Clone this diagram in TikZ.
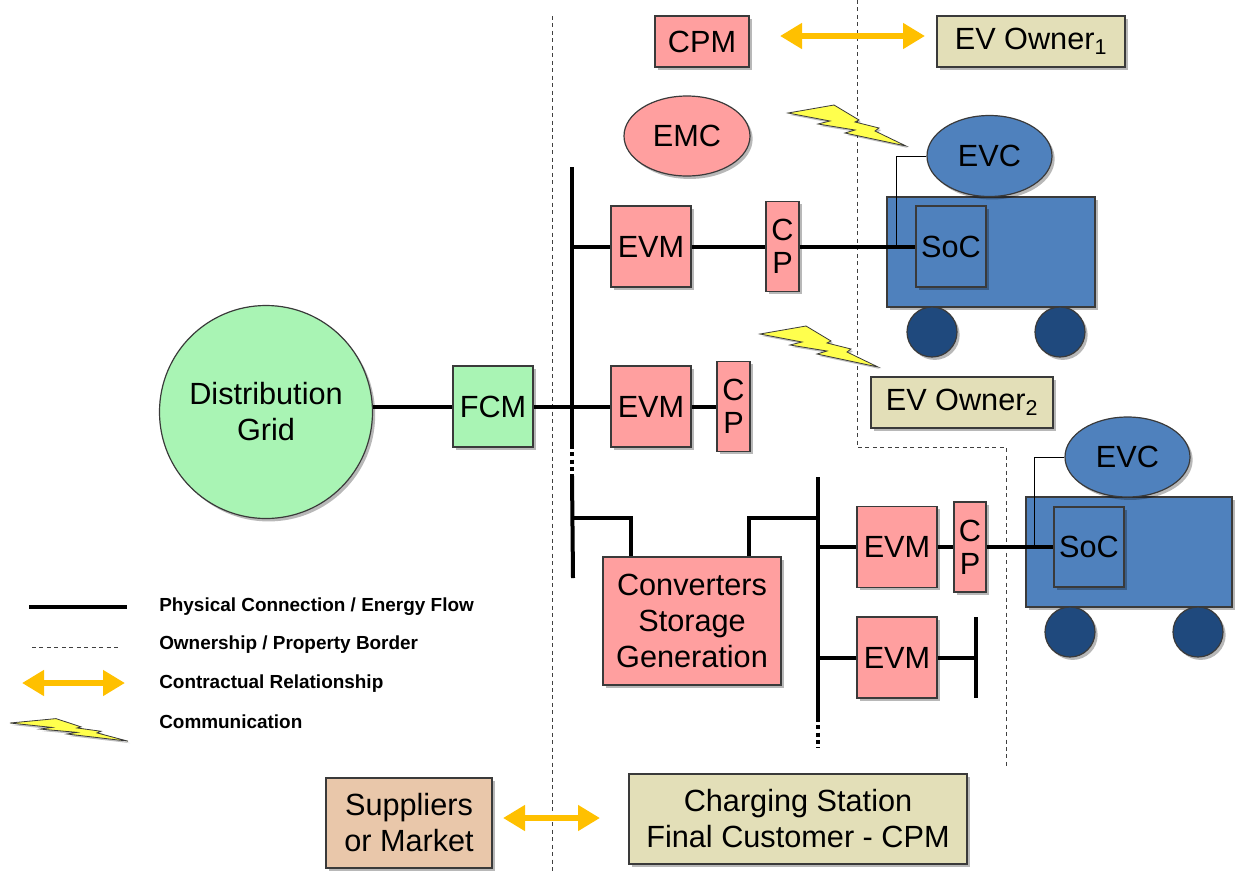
\documentclass[tikz,border=0pt]{standalone}
\usepackage{fontspec}
\setmainfont{Liberation Sans}
\usetikzlibrary{shadows,shapes.geometric,arrows.meta}
\definecolor{pinkc}{HTML}{FF9F9F}
\definecolor{greenc}{HTML}{A9F4B4}
\definecolor{olivec}{HTML}{E3DFB8}
\definecolor{bluec}{HTML}{4F81BD}
\definecolor{darkc}{HTML}{1F497D}
\definecolor{peachc}{HTML}{E9C7AA}
\definecolor{yellowc}{HTML}{FFFF4D}
\definecolor{orangec}{HTML}{FFC000}
\definecolor{edgec}{HTML}{3A3A3A}
\tikzset{
  sz/.style 2 args={minimum width=#1*0.75pt,minimum height=#2*0.75pt},
  base/.style={draw=edgec,line width=.9pt,inner sep=0pt,align=center,
    font=\fontsize{23}{27}\selectfont,
    general shadow={shadow xshift=2pt,shadow yshift=-2.2pt,fill=black,opacity=.28}},
  pinkbox/.style={base,rectangle,fill=pinkc},
  greenbox/.style={base,rectangle,fill=greenc},
  olivebox/.style={base,rectangle,fill=olivec},
  peachbox/.style={base,rectangle,fill=peachc},
  bluebox/.style={base,rectangle,fill=bluec},
  cpbox/.style={pinkbox,font=\fontsize{23}{25}\selectfont},
  oval/.style={base,ellipse,inner sep=0pt},
  wheel/.style={base,circle,fill=darkc,sz={50}{50}},
  power/.style={line width=3pt,black},
  busdots/.style={line width=3pt,black,dash pattern=on 3pt off 2.5pt},
  signal/.style={line width=.6pt,black},
  border/.style={line width=.6pt,black!75,dash pattern=on 3pt off 2.6pt},
  contract/.style={line width=5pt,orangec,{Triangle[width=18.5pt,length=16.5pt]}-{Triangle[width=18.5pt,length=16.5pt]}},
  legendtext/.style={anchor=base west,inner sep=0pt,font=\fontsize{14.2}{16}\bfseries\selectfont},
  boltshape/.style={fill=yellowc,draw=edgec,line width=.6pt,line join=miter,
    general shadow={shadow xshift=1.5pt,shadow yshift=-1.5pt,fill=black,opacity=.25}},
  bolt/.pic={\path[boltshape] (0,0)--(46,-8)--(71,7)--(67,9)--(91,15)--(87,18)--(118,33)--(57,20)--(67,17)--(30,11)--(42,8)--cycle;}
}
\begin{document}
\begin{tikzpicture}[x=0.75pt,y=-0.75pt]
\useasboundingbox (0,0) rectangle (1238,872);
% borders
\coordinate (bl1) at (552,16);
\coordinate (bl2) at (552,872);
\coordinate (br1) at (857,0);
\coordinate (br2) at (857,447);
\coordinate (br3) at (1006,447);
\coordinate (br4) at (1006,768);
\draw[border] (bl1)--(bl2);
\draw[border] (br1)--(br2)--(br3)--(br4);
% top row
\node[pinkbox,sz={94}{51}] (cpm) at (702,41.5) {CPM};
\node[olivebox,sz={188}{51}] (owner1) at (1031,41.5) {EV Owner\textsubscript{1}};
\coordinate (ca1) at (780,36);
\coordinate (ca2) at (925,36);
\draw[contract] (ca1)--(ca2);
\node[oval,fill=pinkc,sz={126}{80}] (emc) at (687,136) {EMC};
\pic at (788,113) {bolt};
\pic at (760,334) {bolt};
% grid
\node[base,circle,fill=greenc,sz={213}{213}] (grid) at (266,412) {Distribution\\Grid};
\node[greenbox,sz={80}{81}] (fcm) at (493,406.5) {FCM};
% EV 1
\node[bluebox,sz={208}{110}] (truck1) at (991,252) {};
\node[oval,fill=bluec,sz={125}{81}] (evc1) at (989.5,156) {EVC};
\node[bluebox,sz={70}{81}] (soc1) at (951,246.5) {SoC};
\node[wheel] (w1a) at (932,332) {};
\node[wheel] (w1b) at (1060,332) {};
\node[pinkbox,sz={80}{81}] (evma) at (651,246.5) {EVM};
\node[cpbox,sz={33}{90}] (cpa) at (782.5,246.5) {C\\P};
% middle row
\node[pinkbox,sz={80}{81}] (evmb) at (651,406.5) {EVM};
\node[cpbox,sz={33}{90}] (cpb) at (733.5,406.5) {C\\P};
\node[olivebox,sz={182}{51}] (owner2) at (962,402.5) {EV Owner\textsubscript{2}};
% lower group
\node[pinkbox,sz={178}{128}] (conv) at (692,621) {Converters\\Storage\\Generation};
\node[pinkbox,sz={80}{81}] (evmc) at (897,547) {EVM};
\node[cpbox,sz={32}{90}] (cpc) at (970,547) {C\\P};
\node[pinkbox,sz={80}{81}] (evmd) at (897,657.5) {EVM};
% EV 2
\node[bluebox,sz={206}{110}] (truck2) at (1129,552) {};
\node[oval,fill=bluec,sz={125}{80}] (evc2) at (1127.5,457) {EVC};
\node[bluebox,sz={70}{80}] (soc2) at (1089,547) {SoC};
\node[wheel] (w2a) at (1070,632) {};
\node[wheel] (w2b) at (1198,632) {};
% buses
\coordinate (a1) at (572,167);
\coordinate (a2) at (572,445);
\coordinate (a3) at (572,476);
\coordinate (a4) at (573,578);
\coordinate (a5) at (573,518);
\coordinate (a6) at (631,518);
\coordinate (b1) at (818,477);
\coordinate (b2) at (818,718);
\coordinate (b3) at (818,748);
\coordinate (b4) at (818,518);
\coordinate (b5) at (749,518);
\coordinate (d1) at (976,617);
\coordinate (d2) at (976,698);
\coordinate (ja) at (896,246.5);
\coordinate (jb) at (1034,547);
\draw[power] (a1)--(a2);
\draw[busdots] (a2)--(a3);
\draw[power] (a3)--(a4);
\draw[power] (a5)--(a6)--(a6 |- conv.north);
\draw[power] (b1)--(b2);
\draw[busdots] (b2)--(b3);
\draw[power] (b4)--(b5)--(b5 |- conv.north);
\draw[power] (d1)--(d2);
\draw[power] (grid.east |- fcm.west)--(fcm.west);
\draw[power] (fcm.east)--(evmb.west);
\draw[power] (evmb.east)--(cpb.west);
\draw[power] (a1 |- evma.west)--(evma.west);
\draw[power] (evma.east)--(cpa.west);
\draw[power] (cpa.east)--(soc1.west);
\draw[power] (b1 |- evmc.west)--(evmc.west);
\draw[power] (evmc.east)--(cpc.west);
\draw[power] (cpc.east)--(soc2.west);
\draw[power] (b1 |- evmd.west)--(evmd.west);
\draw[power] (evmd.east)--(d1 |- evmd.east);
\draw[signal] (evc1.west)-|(ja);
\draw[signal] (evc2.west)-|(jb);
% bottom
\node[peachbox,sz={166}{90}] (supp) at (409,823) {Suppliers\\or Market};
\node[olivebox,sz={338}{90}] (station) at (798,819) {Charging Station\\Final Customer - CPM};
\coordinate (cb1) at (503,818);
\coordinate (cb2) at (600,818);
\draw[contract] (cb1)--(cb2);
% legend
\coordinate (l1a) at (29,607);
\coordinate (l1b) at (127,607);
\coordinate (l2a) at (32,647);
\coordinate (l2b) at (118,647);
\coordinate (l3a) at (22,683);
\coordinate (l3b) at (125,683);
\draw[power] (l1a)--(l1b);
\draw[border] (l2a)--(l2b);
\draw[contract] (l3a)--(l3b);
\pic[yscale=.55] at (10,723) {bolt};
\node[legendtext] (t1) at (159,611) {Physical Connection / Energy Flow};
\node[legendtext] (t2) at (159,649) {Ownership / Property Border};
\node[legendtext] (t3) at (159,688) {Contractual Relationship};
\node[legendtext] (t4) at (159,728) {Communication};
\end{tikzpicture}
\end{document}
